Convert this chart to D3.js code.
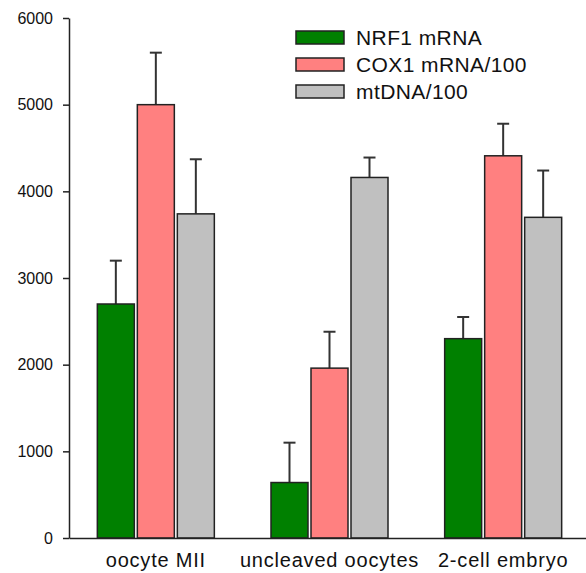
<!DOCTYPE html>
<html>
<head>
<meta charset="utf-8">
<script src="https://cdn.jsdelivr.net/npm/d3@7"></script>
<style>
html,body{margin:0;padding:0;background:#fff;}
svg{display:block;font-family:"Liberation Sans",Arial,sans-serif;}
</style>
</head>
<body>
<svg id="chart" width="586" height="573"></svg>
<script>
const categories = ["oocyte MII", "uncleaved oocytes", "2-cell embryo"];
const seriesNames = ["NRF1 mRNA", "COX1 mRNA/100", "mtDNA/100"];
const seriesColors = ["#008000", "#FF8080", "#C0C0C0"];
const nrf1 = [2700, 640, 2300];
const nrf1Err = [500, 460, 250];
const cox1 = [5000, 1960, 4410];
const cox1Err = [600, 420, 370];
const mtdna = [3740, 4160, 3700];
const mtdnaErr = [630, 230, 540];
const yTicks = [0, 1000, 2000, 3000, 4000, 5000, 6000];

const values = [nrf1, cox1, mtdna];
const errors = [nrf1Err, cox1Err, mtdnaErr];

const svg = d3.select("#chart");
const y = d3.scaleLinear().domain([0, 6000]).range([538, 18]);
const x = d3.scaleBand().domain(categories).range([69, 590]);
const xi = d3.scaleBand().domain(seriesNames).range([-58.5, 58.5]).paddingInner(0.075).paddingOuter(0);

const data = [];
categories.forEach((c, ci) => {
  seriesNames.forEach((s, si) => {
    data.push({cat: c, ser: s, si: si, v: values[si][ci], e: errors[si][ci]});
  });
});

// error bars
const eb = svg.append("g").attr("stroke", "#333").attr("stroke-width", 2);
data.forEach(d => {
  const cx = x(d.cat) + x.bandwidth() / 2 + xi(d.ser) + xi.bandwidth() / 2;
  eb.append("line").attr("x1", cx).attr("x2", cx).attr("y1", y(d.v)).attr("y2", y(d.v + d.e));
  eb.append("line").attr("x1", cx - 6).attr("x2", cx + 6).attr("y1", y(d.v + d.e)).attr("y2", y(d.v + d.e));
});

// bars
svg.append("g").selectAll("rect").data(data).join("rect")
  .attr("x", d => x(d.cat) + x.bandwidth() / 2 + xi(d.ser))
  .attr("width", xi.bandwidth())
  .attr("y", d => y(d.v))
  .attr("height", d => y(0) - y(d.v))
  .attr("fill", d => seriesColors[d.si])
  .attr("stroke", "#222")
  .attr("stroke-width", 1.5);

// y axis
const yAxis = svg.append("g").attr("transform", "translate(69,0)")
  .call(d3.axisLeft(y).tickValues(yTicks).tickFormat(d3.format("d")).tickSizeInner(6).tickSizeOuter(0).tickPadding(10));
yAxis.selectAll("text").attr("font-size", 16).attr("fill", "#111").attr("font-family", "Liberation Sans, Arial, sans-serif");
yAxis.selectAll("line,path").attr("stroke", "#222").attr("stroke-width", 1.5);

// x axis
const xAxis = svg.append("g").attr("transform", "translate(0,538)")
  .call(d3.axisBottom(x).tickSizeInner(0).tickSizeOuter(0).tickPadding(15));
xAxis.selectAll("text").attr("font-size", 20).attr("letter-spacing", 0.8).attr("fill", "#111").attr("font-family", "Liberation Sans, Arial, sans-serif");
xAxis.selectAll("path").attr("stroke", "#222").attr("stroke-width", 1.5);

// legend
const lg = svg.append("g");
seriesNames.forEach((s, i) => {
  lg.append("rect").attr("x", 296).attr("y", 31 + i * 27).attr("width", 48).attr("height", 13)
    .attr("fill", seriesColors[i]).attr("stroke", "#222").attr("stroke-width", 1.5);
  lg.append("text").attr("x", 356).attr("y", 44.5 + i * 27).attr("font-size", 21)
    .attr("fill", "#111").attr("letter-spacing", 0.4).text(s);
});
</script>
</body>
</html>
